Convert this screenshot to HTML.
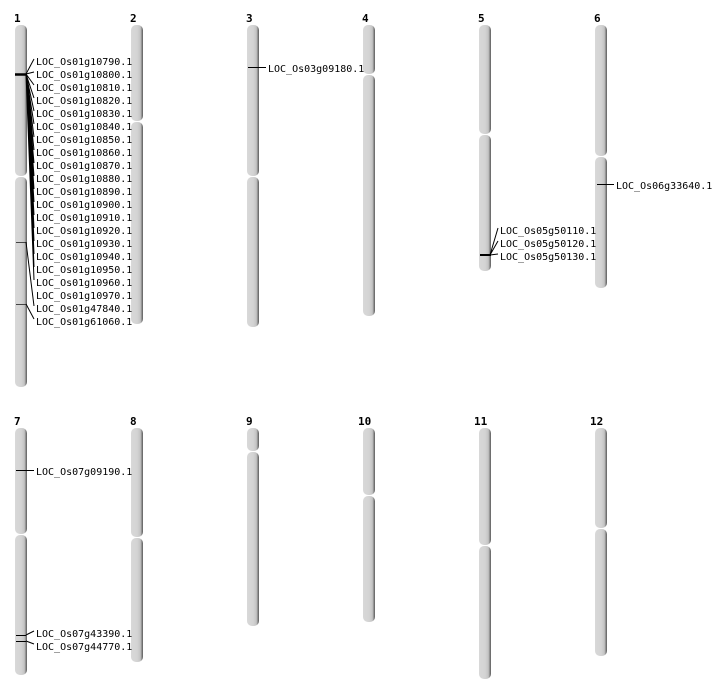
<!DOCTYPE html>
<html><head><meta charset="utf-8"><style>
html,body{margin:0;padding:0;background:#fff;}
svg{display:block;}
text{font-family:"DejaVu Sans Mono","Liberation Mono",monospace;font-size:10px;fill:#000;}
.n{font-weight:bold;font-size:11px;}
</style></head><body>
<svg width="712" height="700" viewBox="0 0 712 700" xmlns="http://www.w3.org/2000/svg">
<defs>
<linearGradient id="g" x1="0" x2="1" y1="0" y2="0">
<stop offset="0" stop-color="#d8d8d8"/>
<stop offset="0.5" stop-color="#d4d4d4"/>
<stop offset="0.78" stop-color="#c4c4c4"/>
<stop offset="0.9" stop-color="#8a8a8a"/>
<stop offset="1" stop-color="#5a5a5a"/>
</linearGradient>
</defs>
<g fill="url(#g)">
<rect x="15" y="25" width="12" height="151" rx="5"/><rect x="15" y="177" width="12" height="210" rx="5"/>
<rect x="131" y="25" width="12" height="96" rx="5"/><rect x="131" y="122" width="12" height="202" rx="5"/>
<rect x="247" y="25" width="12" height="151" rx="5"/><rect x="247" y="177" width="12" height="150" rx="5"/>
<rect x="363" y="25" width="12" height="49" rx="5"/><rect x="363" y="75" width="12" height="241" rx="5"/>
<rect x="479" y="25" width="12" height="109" rx="5"/><rect x="479" y="135" width="12" height="136" rx="5"/>
<rect x="595" y="25" width="12" height="131" rx="5"/><rect x="595" y="157" width="12" height="131" rx="5"/>
<rect x="15" y="428" width="12" height="106" rx="5"/><rect x="15" y="535" width="12" height="140" rx="5"/>
<rect x="131" y="428" width="12" height="109" rx="5"/><rect x="131" y="538" width="12" height="124" rx="5"/>
<rect x="247" y="428" width="12" height="23" rx="5"/><rect x="247" y="452" width="12" height="174" rx="5"/>
<rect x="363" y="428" width="12" height="67" rx="5"/><rect x="363" y="496" width="12" height="126" rx="5"/>
<rect x="479" y="428" width="12" height="117" rx="5"/><rect x="479" y="546" width="12" height="133" rx="5"/>
<rect x="595" y="428" width="12" height="100" rx="5"/><rect x="595" y="529" width="12" height="127" rx="5"/>
</g>
<g>
<text class="n" x="14" y="22">1</text><text class="n" x="130" y="22">2</text><text class="n" x="246" y="22">3</text>
<text class="n" x="362" y="22">4</text><text class="n" x="478" y="22">5</text><text class="n" x="594" y="22">6</text>
<text class="n" x="14" y="425">7</text><text class="n" x="130" y="425">8</text><text class="n" x="246" y="425">9</text>
<text class="n" x="358" y="425">10</text><text class="n" x="474" y="425">11</text><text class="n" x="590" y="425">12</text>
</g>
<g stroke="#000" stroke-width="1" fill="none">
<line x1="15" y1="74.5" x2="27" y2="74.5" stroke-width="2.5"/>
<line x1="16" y1="242.5" x2="26" y2="242.5" stroke="#444"/>
<line x1="16" y1="304.5" x2="26" y2="304.5" stroke="#444"/>
<path d="M26 74 L34 59 M26 74 L34 72 M26 74 L34 85 M26 74 L34 98 M26 74 L34 111 M26 74 L34 124 M26 74 L34 137 M26 74 L34 150 M26 74 L34 163 M26 74 L34 176 M26 74 L34 189 M26 74 L34 202 M26 74 L34 215 M26 74 L34 228 M26 74 L34 241 M26 74 L34 254 M26 74 L34 267 M26 74 L34 280 M26 242 L34 306 M26 304 L34 319"/>
<line x1="248" y1="67.5" x2="266" y2="67.5"/>
<line x1="480" y1="255" x2="491" y2="255" stroke-width="2"/>
<path d="M490 255 L498 228 M490 255 L498 241 M490 255 L498 254"/>
<line x1="597" y1="184.5" x2="614" y2="184.5"/>
<line x1="16" y1="470.5" x2="34" y2="470.5"/>
<line x1="16" y1="635.5" x2="26" y2="635.5"/>
<line x1="16" y1="641.5" x2="26" y2="641.5"/>
<path d="M26 635 L34 631 M26 641 L34 644"/>
</g>
<g>
<text x="36" y="65">LOC_Os01g10790.1</text>
<text x="36" y="78">LOC_Os01g10800.1</text>
<text x="36" y="91">LOC_Os01g10810.1</text>
<text x="36" y="104">LOC_Os01g10820.1</text>
<text x="36" y="117">LOC_Os01g10830.1</text>
<text x="36" y="130">LOC_Os01g10840.1</text>
<text x="36" y="143">LOC_Os01g10850.1</text>
<text x="36" y="156">LOC_Os01g10860.1</text>
<text x="36" y="169">LOC_Os01g10870.1</text>
<text x="36" y="182">LOC_Os01g10880.1</text>
<text x="36" y="195">LOC_Os01g10890.1</text>
<text x="36" y="208">LOC_Os01g10900.1</text>
<text x="36" y="221">LOC_Os01g10910.1</text>
<text x="36" y="234">LOC_Os01g10920.1</text>
<text x="36" y="247">LOC_Os01g10930.1</text>
<text x="36" y="260">LOC_Os01g10940.1</text>
<text x="36" y="273">LOC_Os01g10950.1</text>
<text x="36" y="286">LOC_Os01g10960.1</text>
<text x="36" y="299">LOC_Os01g10970.1</text>
<text x="36" y="312">LOC_Os01g47840.1</text>
<text x="36" y="325">LOC_Os01g61060.1</text>
<text x="268" y="72">LOC_Os03g09180.1</text>
<text x="500" y="234">LOC_Os05g50110.1</text>
<text x="500" y="247">LOC_Os05g50120.1</text>
<text x="500" y="260">LOC_Os05g50130.1</text>
<text x="616" y="189">LOC_Os06g33640.1</text>
<text x="36" y="475">LOC_Os07g09190.1</text>
<text x="36" y="637">LOC_Os07g43390.1</text>
<text x="36" y="650">LOC_Os07g44770.1</text>
</g>
</svg>
</body></html>
